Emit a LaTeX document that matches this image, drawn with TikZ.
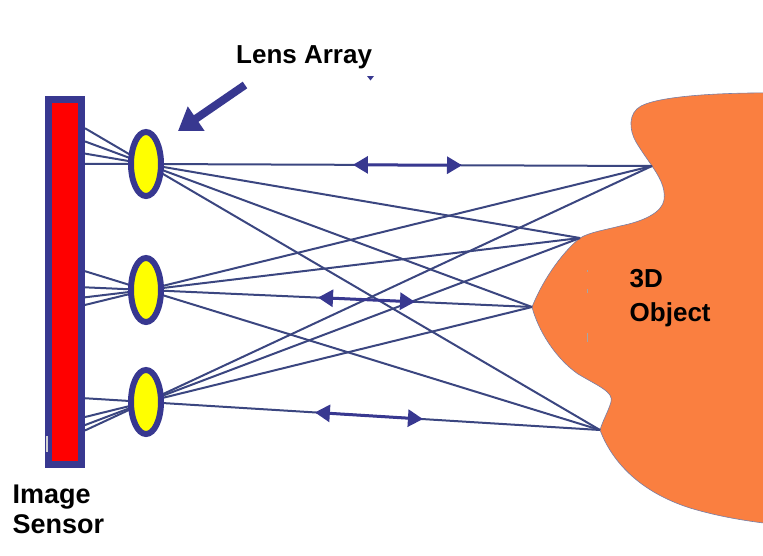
\documentclass[tikz,border=0pt]{standalone}
\usepackage{fontspec}
\setmainfont{Liberation Sans}
\usetikzlibrary{arrows.meta,calc,shapes.geometric}

\definecolor{frameblue}{HTML}{383890}
\definecolor{raycol}{HTML}{3B4680}
\definecolor{sensorred}{HTML}{FF0000}
\definecolor{lensyellow}{HTML}{FFFF00}
\definecolor{objorange}{HTML}{FA7F40}

\tikzset{
  ray/.style={raycol, line width=2pt},
  sensorbox/.style={rectangle, draw=frameblue, line width=7pt, fill=sensorred,
    minimum width=33pt, minimum height=365pt, inner sep=0pt},
  lens/.style={ellipse, draw=frameblue, line width=6pt, fill=lensyellow,
    minimum width=30pt, minimum height=64pt, inner sep=0pt},
  dblarrow/.style={frameblue, line width=3pt,
    {Triangle[length=15pt,width=17pt]}-{Triangle[length=15pt,width=17pt]}},
  pointer/.style={frameblue, line width=8pt, -{Triangle[length=22pt,width=28pt]}},
  label/.style={inner sep=0pt, font=\bfseries\fontsize{26}{30}\selectfont, align=left},
  objfill/.style={fill=objorange, draw=raycol!70, line width=0.6pt}
}

\begin{document}
\begin{tikzpicture}[x=1pt, y=-1pt]
\useasboundingbox (0,0) rectangle (763,555);

% lens centres and the four object points the rays meet
\coordinate (c1) at (146,164);
\coordinate (c2) at (146,290);
\coordinate (c3) at (146,402);
\coordinate (A) at (652,166);
\coordinate (B) at (580,238);
\coordinate (C) at (532,307);
\coordinate (D) at (600,430);

% the 3D object
\path[objfill] (790,93) .. controls (720,92) and (660,96) .. (641,106)
  .. controls (628,113) and (629,130) .. (636,142)
  .. controls (642,152) and (648,160) .. (A)
  .. controls (658,175) and (666,187) .. (664,200)
  .. controls (662,212) and (645,221) .. (620,226)
  .. controls (605,230) and (590,232) .. (B)
  .. controls (565,250) and (545,275) .. (C)
  .. controls (538,330) and (555,358) .. (578,374)
  .. controls (598,386) and (614,392) .. (611,402)
  .. controls (608,412) and (603,420) .. (D)
  .. controls (612,462) and (640,492) .. (690,508)
  .. controls (720,517) and (750,522) .. (790,526)
  -- cycle;
\foreach \y/\l in {270/2, 289/4, 333/9}
  \draw[gray!70, line width=0.8pt] (587,\y) -- ++(0,\l);

% rays: each one runs from the sensor through a lens centre to an object point
\foreach \c in {c1,c2,c3}
  \foreach \p/\t in {A/0.1206, B/0.1406, C/0.158, D/0.1344}
    \draw[ray] ($(\c)!-\t!(\p)$) -- (\p);

% image sensor
\node[sensorbox] (sensor) at (65,282) {};
\fill[gray!35] (45.5,436) rectangle (48,452);

% lens array
\node[lens] (L1) at (c1) {};
\node[lens] (L2) at (c2) {};
\node[lens] (L3) at (c3) {};

% double arrows along three of the rays
\draw[dblarrow] ($(L1)!0.409!(A)$) -- ($(L1)!0.6245!(A)$);
\draw[dblarrow] ($(L2)!0.4456!(C)$) -- ($(L2)!0.697!(C)$);
\draw[dblarrow] ($(L3)!0.372!(D)$) -- ($(L3)!0.61!(D)$);

% labels
\node[label, anchor=base west] (lensarray) at (236,63) {Lens Array};
\fill[frameblue] (367,76) -- (374,76) -- (370.5,80.5) -- cycle;
\coordinate (ptail) at (245,85);
\coordinate (phead) at (178,131);
\draw[pointer] (ptail) -- (phead);

\node[label, anchor=north west, font=\bfseries\fontsize{27}{30}\selectfont] (sensorlabel) at (12.5,485) {Image\\Sensor};
\node[label, anchor=north west, font=\bfseries\fontsize{26}{34}\selectfont] (objlabel) at (629.5,269.5) {3D\\Object};
\end{tikzpicture}
\end{document}
